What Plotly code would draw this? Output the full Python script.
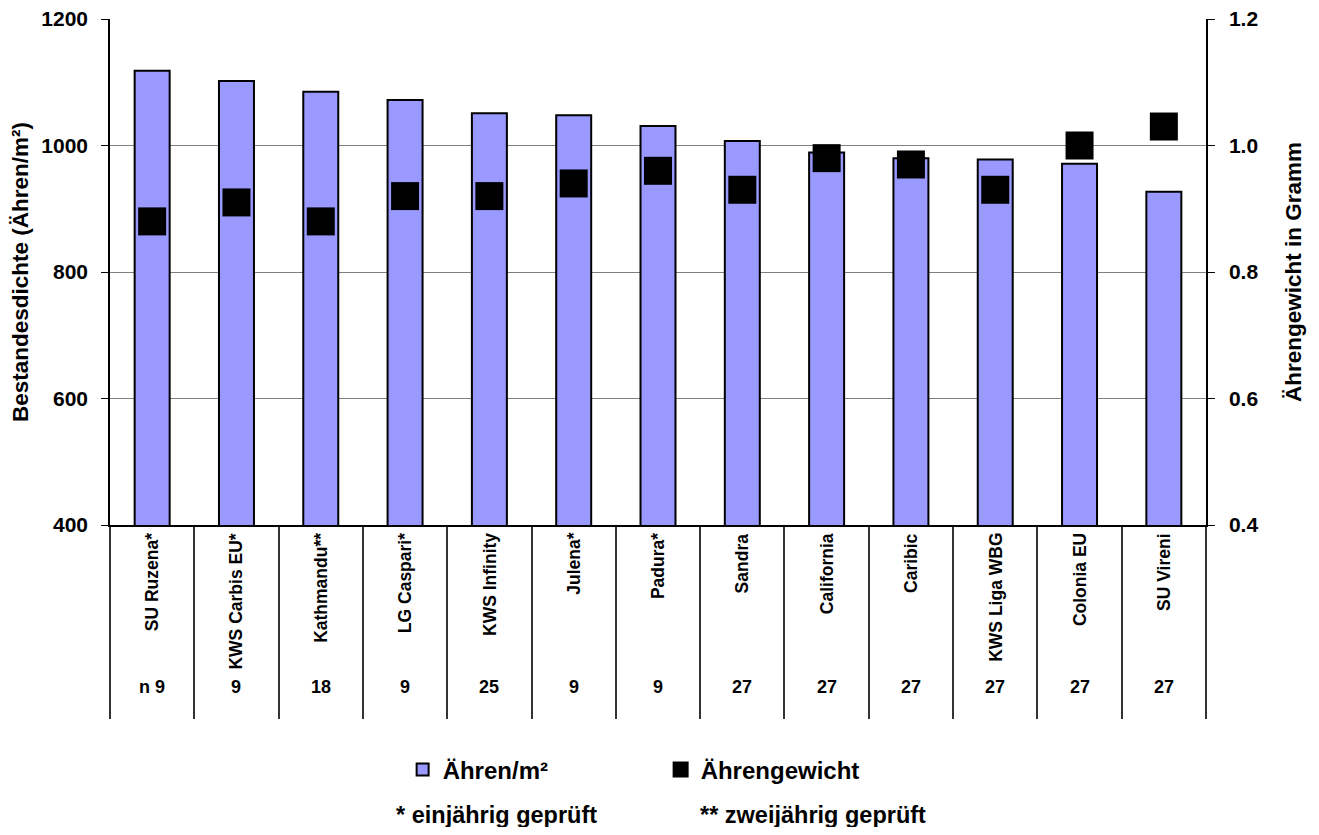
import plotly.graph_objects as go

categories = ["SU Ruzena*", "KWS Carbis EU*", "Kathmandu**", "LG Caspari*", "KWS Infinity",
              "Julena*", "Padura*", "Sandra", "California", "Caribic", "KWS Liga WBG",
              "Colonia EU", "SU Vireni"]
ahren_m2 = [1118, 1102, 1085, 1072, 1051, 1048, 1031, 1007, 989, 980, 978, 971, 927]
ahrengewicht = [0.88, 0.91, 0.88, 0.92, 0.92, 0.94, 0.96, 0.93, 0.98, 0.97, 0.93, 1.00, 1.03]
n_values = ["n 9", "9", "18", "9", "25", "9", "9", "27", "27", "27", "27", "27", "27"]

FONT = "Arial, Liberation Sans, sans-serif"

def f(size):
    return dict(size=size, family=FONT, weight="bold", color="black")

fig = go.Figure()
fig.add_trace(go.Bar(
    x=categories, y=ahren_m2, name="Ähren/m²",
    marker=dict(color="#9999FF", line=dict(color="black", width=2)),
    yaxis="y",
))
fig.add_trace(go.Scatter(
    x=categories, y=ahrengewicht, name="Ährengewicht", mode="markers",
    marker=dict(symbol="square", size=28, color="black"),
    yaxis="y2",
))

annotations = []
for c, n in zip(categories, n_values):
    annotations.append(dict(x=c, xref="x", y=-0.012, yref="paper", text=c, textangle=-90,
                            showarrow=False, xanchor="center", yanchor="top", font=f(17.5)))
    annotations.append(dict(x=c, xref="x", y=-0.320, yref="paper", text=n,
                            showarrow=False, xanchor="center", yanchor="middle", font=f(18)))
annotations.append(dict(x=0.353, xref="paper", y=-0.573, yref="paper", text="* einjährig geprüft",
                        showarrow=False, xanchor="center", yanchor="middle", font=f(23.5)))
annotations.append(dict(x=0.641, xref="paper", y=-0.573, yref="paper", text="** zweijährig geprüft",
                        showarrow=False, xanchor="center", yanchor="middle", font=f(23.5)))

fig.update_layout(
    width=1303, height=819, autosize=False,
    margin=dict(l=102, r=105, t=11, b=302, autoexpand=False),
    paper_bgcolor="white", plot_bgcolor="white",
    font=dict(family=FONT, weight="bold", color="black"),
    bargap=0.585,
    showlegend=True,
    legend=dict(orientation="h", x=0.267, xanchor="left", y=-0.484, yanchor="middle",
                font=f(24), entrywidth=213, entrywidthmode="pixels", itemwidth=30,
                bgcolor="rgba(0,0,0,0)"),
    xaxis=dict(type="category", range=[-0.5, len(categories) - 0.5],
               showline=True, linecolor="black", linewidth=1.5,
               ticks="outside", tickson="boundaries", ticklen=192, tickwidth=1.5,
               tickcolor="#333333", showticklabels=False, showgrid=False, automargin=False),
    yaxis=dict(range=[400, 1200], dtick=200, tick0=400, showline=True, linecolor="black",
               linewidth=1.5, ticks="outside", ticklen=7, tickcolor="black",
               showgrid=True, gridcolor="#808080", gridwidth=1, zeroline=False,
               ticklabelstandoff=9, tickfont=f(21), ticklabeloverflow="allow", automargin=False,
               title=dict(text="Bestandesdichte (Ähren/m²)", standoff=6, font=f(22.5))),
    yaxis2=dict(range=[0.4, 1.2], dtick=0.2, tick0=0.4, tickformat=".1f", overlaying="y",
                side="right", showline=True, linecolor="black", linewidth=1.5,
                ticks="outside", ticklen=7, tickcolor="black", showgrid=False, zeroline=False,
                ticklabelstandoff=10, tickfont=f(21), ticklabeloverflow="allow", automargin=False,
                title=dict(text="Ährengewicht in Gramm", standoff=28, font=f(22.5))),
    annotations=annotations,
)

fig.write_html("out.html")
